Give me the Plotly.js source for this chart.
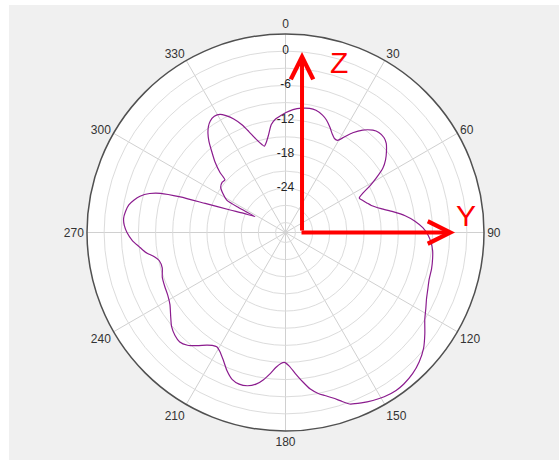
<!DOCTYPE html>
<html>
<head>
<meta charset="utf-8">
<script src="https://cdn.plot.ly/plotly-3.0.1.min.js"></script>
<style>
html,body{margin:0;padding:0;background:#ffffff;width:559px;height:460px;overflow:hidden;}
#chart{position:absolute;left:9px;top:5px;width:550px;height:455px;}
</style>
</head>
<body>
<div id="chart"></div>
<script>
// Pattern angles (degrees, clockwise from top) and gain values (dB), in path order
var patternTheta = [
  297.5, 298.0, 298.9, 302, 305, 308.5, 311, 312.5, 315, 317.5, 320, 322, 324, 326, 328.5,
  331, 333, 335.5, 338, 340, 342.5, 345, 346.2, 348, 350, 352.5, 355, 357.5,
  0, 3.5, 7.5, 11, 14, 17.5, 20, 23, 25.5, 27.5, 29.5, 31.5, 34, 37, 40.5, 43, 46,
  48.5, 51, 54, 56.5, 59, 61, 63, 65, 67.5, 70, 72.5, 76, 79, 82, 85, 88, 91, 94, 97,
  100, 104, 108, 112, 115, 118.5, 122, 126, 130, 134, 138, 142, 145, 149, 152.5, 156,
  159.5, 162, 164, 166.5, 168.5, 171, 173.5, 176, 178.5, 180.5, 182, 184, 186, 188.5,
  191, 194, 197, 200, 203, 206, 209, 211, 213, 215, 218, 221, 224, 227, 230.5, 234,
  238, 242, 246, 250, 254, 257.5, 259.5, 262, 264.5, 267, 270, 272.5, 275, 277.5, 280,
  282, 284, 286, 287.4, 288.7, 289.9, 292.1, 294.5, 297.5
];
var patternGain = [
  -25.7, -22.5, -20.0, -18.8, -17.9, -17.6, -17.7, -16.2, -14.3, -12.7, -10.9, -9.7, -8.8, -8.2, -7.9,
  -8.1, -8.8, -9.9, -11.4, -12.9, -14.6, -15.8, -16.2, -15.6, -14.5, -12.7, -11.8, -11.3,
  -10.8, -10.2, -9.8, -9.6, -9.7, -10.2, -10.8, -11.8, -12.7, -13.2, -13.2, -12.2, -10.7, -9.3, -8.2, -7.8, -7.8,
  -8.2, -9.0, -10.1, -11.3, -13.2, -14.8, -16.5, -17.5, -17.1, -16.6, -16.0, -14.5, -12.6, -10.6, -9.0, -7.7, -6.8, -6.2, -5.8,
  -5.6, -5.4, -5.3, -4.9, -4.5, -3.8, -3.0, -1.6, -0.2, 0.8, 1.5, 1.9, 2.0, 1.8, 1.4, 0.9,
  0.3, -0.8, -1.6, -2.4, -3.0, -4.0, -5.5, -7.0, -8.4, -9.0, -8.8, -8.1, -7.0, -5.7,
  -4.7, -4.1, -4.0, -4.4, -5.5, -6.9, -8.0, -8.4, -8.2, -7.7, -6.6, -5.6, -5.1, -5.3, -5.9, -6.9,
  -7.9, -8.4, -8.6, -8.8, -9.3, -9.1, -8.4, -7.0, -6.0, -4.9, -4.0, -3.5, -3.3, -3.5, -3.9,
  -4.6, -5.5, -7.0, -8.8, -12.3, -16.8, -21.3, -23.6, -25.7
];

// Radial grid and labels
var radialGridVals = [-30, -27, -24, -21, -18, -15, -12, -9, -6, -3, 0];
var radialLabelVals = [0, -6, -12, -18, -24];
var radialLabelText = ['0', '-6', '-12', '-18', '-24'];
var radialRange = [-31.75, 3];

// Angular ticks
var angleTickVals = [0, 30, 60, 90, 120, 150, 180, 210, 240, 270, 300, 330];
var angleTickText = ['0', '30', '60', '90', '120', '150', '180', '210', '240', '270', '300', '330'];

// Axis-direction labels
var axisLabels = ['Z', 'Y'];

var traces = [
  {
    type: 'scatterpolar',
    mode: 'lines',
    theta: patternTheta,
    r: patternGain,
    line: {color: '#8b1c8e', width: 1.2, shape: 'spline', smoothing: 0.6},
    hoverinfo: 'none',
    showlegend: false
  },
  {
    type: 'scatterpolar',
    mode: 'text',
    theta: radialLabelVals.map(function(){return 0;}),
    r: radialLabelVals,
    text: radialLabelText,
    textposition: 'middle center',
    textfont: {family: 'Liberation Sans, Arial, sans-serif', size: 12, color: '#222222'},
    cliponaxis: false,
    hoverinfo: 'none',
    showlegend: false
  }
];

var layout = {
  width: 550,
  height: 455,
  margin: {l: 3, r: 0, t: 29, b: 29, pad: 0},
  paper_bgcolor: '#f0f0f0',
  showlegend: false,
  polar: {
    bgcolor: '#ffffff',
    domain: {x: [0, 1], y: [0, 1]},
    angularaxis: {
      rotation: 90,
      direction: 'clockwise',
      tickmode: 'array',
      tickvals: angleTickVals,
      ticktext: angleTickText,
      showline: true,
      linecolor: '#505050',
      linewidth: 1.5,
      ticks: '',
      showgrid: true,
      gridcolor: '#d0d0d0',
      gridwidth: 1,
      tickfont: {family: 'Liberation Sans, Arial, sans-serif', size: 12, color: '#333333'}
    },
    radialaxis: {
      range: radialRange,
      tickmode: 'array',
      tickvals: radialGridVals,
      showticklabels: false,
      ticks: '',
      showline: false,
      gridcolor: '#dcdcdc',
      gridwidth: 1,
      angle: 90
    }
  },
  annotations: [
    {
      xref: 'paper', yref: 'paper',
      x: 0.5302, y: 0.9547,
      ax: 0, ay: 180,
      text: '',
      showarrow: true,
      arrowhead: 5, arrowsize: 1.1, arrowwidth: 4, arrowcolor: '#ff0000', standoff: 0
    },
    {
      xref: 'paper', yref: 'paper',
      x: 0.8099, y: 0.5,
      ax: -155, ay: 0,
      text: '',
      showarrow: true,
      arrowhead: 5, arrowsize: 1.1, arrowwidth: 4, arrowcolor: '#ff0000', standoff: 0
    },
    {
      xref: 'paper', yref: 'paper',
      x: 0.5978, y: 0.9282,
      text: axisLabels[0], showarrow: false,
      xanchor: 'center', yanchor: 'middle',
      font: {family: 'Liberation Sans, Arial, sans-serif', size: 30, color: '#ff0000'}
    },
    {
      xref: 'paper', yref: 'paper',
      x: 0.8291, y: 0.5416,
      text: axisLabels[1], showarrow: false,
      xanchor: 'center', yanchor: 'middle',
      font: {family: 'Liberation Sans, Arial, sans-serif', size: 30, color: '#ff0000'}
    }
  ]
};

Plotly.newPlot('chart', traces, layout, {staticPlot: true, displayModeBar: false});
</script>
</body>
</html>
